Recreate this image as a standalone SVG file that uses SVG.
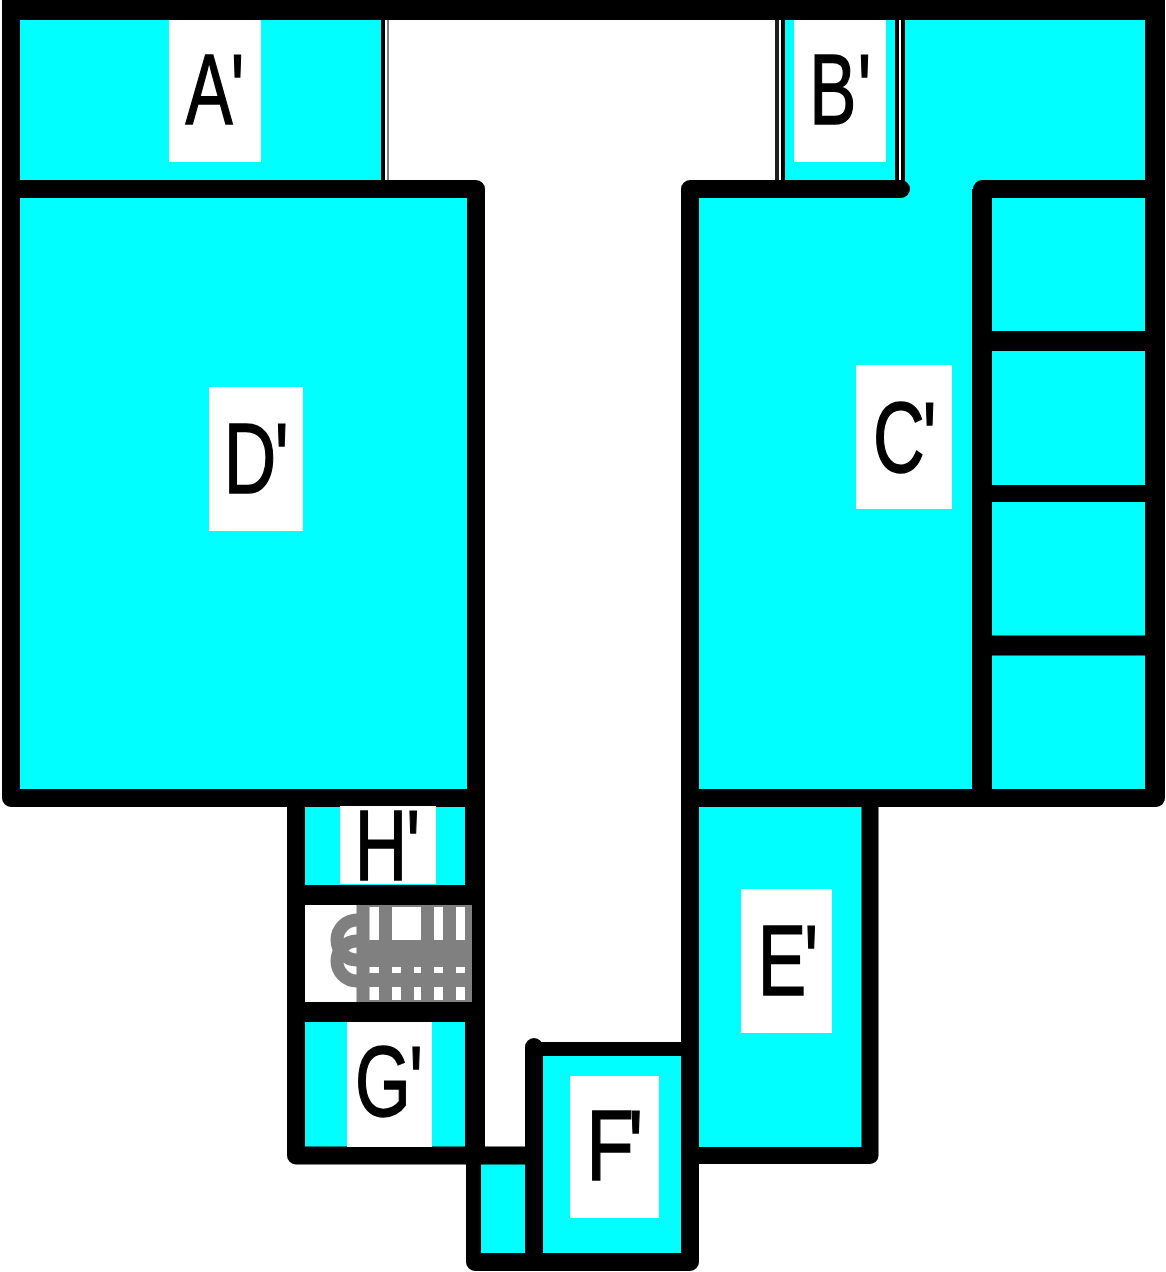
<svg xmlns="http://www.w3.org/2000/svg" width="1166" height="1272" viewBox="0 0 1166 1272">
<style>
.room{fill:#00ffff}
.label{fill:#ffffff}
.wall{fill:none;stroke:#000000;stroke-width:18;stroke-linecap:butt;stroke-linejoin:round}
.cap{stroke-linecap:round}
.w20{stroke-width:20}
.w17{stroke-width:17}
.w15{stroke-width:15}
.w14{stroke-width:14}
.pipe{fill:none;stroke:#808080;stroke-width:13}
.gray{fill:#808080}
text{font-family:"Liberation Sans",Arial,sans-serif;font-size:101px;fill:#000000;stroke:#000000;stroke-width:1.5}
</style>
<defs><clipPath id="hatch-clip"><rect x="305" y="905" width="167" height="97"/></clipPath></defs>
<rect width="1166" height="1272" fill="#ffffff"/>
<g id="rooms">
<rect class="room" x="12" y="12" width="372" height="170"/>
<rect class="room" x="783" y="12" width="372" height="180"/>
<rect class="room" x="12" y="190" width="460" height="605"/>
<rect class="room" x="690" y="190" width="465" height="605"/>
<rect class="room" x="296" y="800" width="180" height="90"/>
<rect class="room" x="296" y="1015" width="180" height="140"/>
<rect class="room" x="690" y="800" width="180" height="355"/>
<rect class="room" x="476" y="1155" width="60" height="105"/>
<rect class="room" x="534" y="1050" width="155" height="210"/>
</g>
<g id="double-lines">
<rect x="381" y="15" width="4" height="170" fill="#000000"/>
<rect x="387" y="15" width="2" height="170" fill="#808080"/>
<rect x="779" y="15" width="2" height="170" fill="#ffffff"/>
<rect x="775" y="15" width="4" height="170" fill="#202020"/>
<rect x="781" y="15" width="4" height="170" fill="#000000"/>
<rect x="899" y="15" width="2" height="170" fill="#ffffff"/>
<rect x="895" y="15" width="4" height="170" fill="#000000"/>
<rect x="901" y="15" width="4" height="170" fill="#000000"/>
</g>
<g id="walls">
<path class="wall w20" d="M2 10H1165"/>
<path class="wall" d="M11 10V798H476"/>
<path class="wall" d="M476 798V189H11"/>
<path class="wall w20" d="M1155 10V798"/>
<path class="wall cap" d="M1156 798H690"/>
<path class="wall cap" d="M901 189H690V1155"/>
<path class="wall w20" d="M982 798V189"/>
<path class="wall cap" d="M982 189H1155"/>
<path class="wall w20" d="M982 341H1155"/>
<path class="wall w17" d="M982 493.500H1155"/>
<path class="wall w20" d="M982 645.500H1155"/>
<path class="wall w20" d="M475 798V1150"/>
<path class="wall" d="M296 798V1155.500H534"/>
<path class="wall w15" d="M473.500 1155V1262"/>
<path class="wall cap" d="M475 1262H690V1155"/>
<path class="wall w20" d="M296 895H476M296 1012H476"/>
<path class="wall cap" d="M534 1047V1262"/>
<path class="wall w14" d="M534 1049H690"/>
<path class="wall w17" d="M690 1155.500H870V798"/>
</g>
<g id="hatched-room" clip-path="url(#hatch-clip)">
<rect x="305" y="905" width="167" height="97" fill="#ffffff"/>
<path class="pipe" d="M363 905V1002M385.500 905V1002M407.500 940V1002M427.500 905V1002M449.500 905V1002"/>
<rect class="gray" x="465" y="905" width="7" height="97"/>
<rect class="gray" x="357" y="905" width="115" height="2"/>
<rect class="gray" x="357" y="1000" width="115" height="2"/>
<rect class="gray" x="357" y="940" width="115" height="27"/>
<rect class="gray" x="357" y="973" width="115" height="14"/>
<path class="pipe" d="M357 920A20 20 0 0 0 357 960"/>
<path class="pipe" d="M357 941A20 20 0 0 0 357 981"/>
</g>
<g id="node-a"><rect class="label" x="169" y="20" width="92" height="142"/><text transform="translate(185.500,124) scale(.7,1)" x="0 64.800">A'</text></g>
<g id="node-b"><rect class="label" x="794" y="20" width="92" height="142"/><text transform="translate(809.200,124) scale(.7,1)" x="0 69.500">B'</text></g>
<g id="node-c"><rect class="label" x="856" y="365" width="96" height="144"/><text transform="translate(872.900,472) scale(.71,1)" x="0 70.200">C'</text></g>
<g id="node-d"><rect class="label" x="209" y="387" width="94" height="144"/><text transform="translate(223.700,493) scale(.72,1)" x="0 70.800">D'</text></g>
<g id="node-e"><rect class="label" x="741" y="889" width="91" height="144"/><text transform="translate(757.700,995) scale(.72,1)" x="0 64.500">E'</text></g>
<g id="node-f"><rect class="label" x="570" y="1076" width="89" height="142"/><text transform="translate(586.300,1180) scale(.77,1)" x="0 54.400">F'</text></g>
<g id="node-g"><rect class="label" x="347" y="1022" width="85" height="125"/><text transform="translate(354.900,1116) scale(.71,1)" x="0 76.500">G'</text></g>
<g id="node-h"><rect class="label" x="340" y="806" width="96" height="78"/><text transform="translate(354.700,880) scale(.72,1)" x="0 71.500">H'</text></g>
</svg>
